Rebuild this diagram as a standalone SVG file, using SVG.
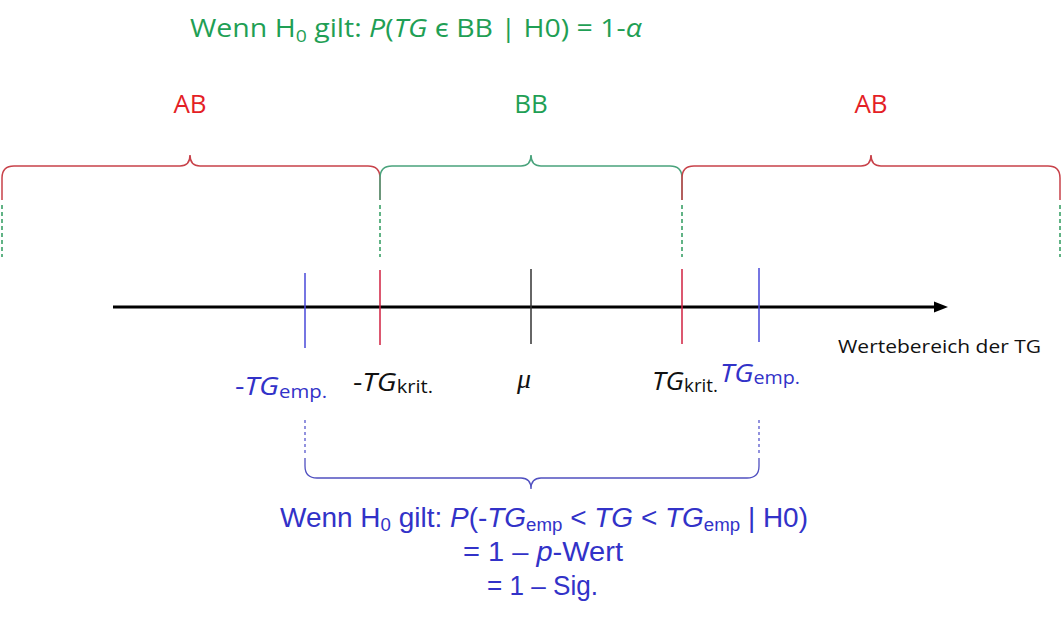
<svg xmlns="http://www.w3.org/2000/svg" width="1062" height="626" viewBox="0 0 1062 626">
<style>
text{font-family:"Open Sans","Noto Sans","Liberation Sans",sans-serif}
.lt{font-family:"Liberation Sans","Open Sans",sans-serif}
.g{fill:#1f9f55}
.r{fill:#e41e26}
.b{fill:#3232c8}
.k{fill:#111}
.i{font-style:italic}
.brR{fill:none;stroke:#c8424a;stroke-width:1.5}
.brG{fill:none;stroke:#4aa37c;stroke-width:1.5}
.brB{fill:none;stroke:#5050c0;stroke-width:1.3}
.dG{stroke:#2e9a5e;stroke-width:1.5;stroke-dasharray:4 3}
.dB{stroke:#4a4ac8;stroke-width:1.2;stroke-dasharray:3 3}
.tk{stroke-width:1.5}
</style>

<g id="title">
<text class="g" x="190" y="37" font-size="25" textLength="452" lengthAdjust="spacingAndGlyphs">Wenn H<tspan font-size="17" dy="5">0</tspan><tspan dy="-5"> gilt: </tspan><tspan class="i">P</tspan>(<tspan class="i">TG</tspan> ϵ BB | H0) = 1-<tspan class="i">α</tspan></text>
</g>

<g id="region-labels">
<text class="r" x="190" y="113" font-size="26" text-anchor="middle">AB</text>
<text class="g" x="531" y="113" font-size="26" text-anchor="middle">BB</text>
<text class="r" x="871" y="113" font-size="26" text-anchor="middle">AB</text>
</g>

<g id="connectors">
<path class="brR" d="M2,200 V178 Q2,166 14,166 H180 Q190,166 190,155 Q190,166 200,166 H368 Q380,166 380,178 V200"/>
<path class="brG" d="M380,200 V178 Q380,166 392,166 H521 Q531,166 531,155 Q531,166 541,166 H670 Q682,166 682,178 V200"/>
<path class="brR" d="M682,200 V178 Q682,166 694,166 H861 Q871,166 871,155 Q871,166 881,166 H1048 Q1060,166 1060,178 V200"/>
<line class="dG" x1="2" y1="205" x2="2" y2="257"/>
<line class="dG" x1="380" y1="205" x2="380" y2="257"/>
<line class="dG" x1="682" y1="205" x2="682" y2="257"/>
<line class="dG" x1="1060" y1="205" x2="1060" y2="257"/>
<line x1="113" y1="307" x2="936" y2="307" stroke="#000" stroke-width="3"/>
<polygon points="934,301.5 948,307 934,312.5" fill="#000"/>
<line class="tk" x1="305" y1="273" x2="305" y2="348" stroke="#4848d8"/>
<line class="tk" x1="380" y1="270" x2="380" y2="345" stroke="#d02040"/>
<line class="tk" x1="531" y1="269" x2="531" y2="344" stroke="#333"/>
<line class="tk" x1="682" y1="269" x2="682" y2="344" stroke="#d02040"/>
<line class="tk" x1="759" y1="268" x2="759" y2="342" stroke="#4848d8"/>
<line class="dB" x1="305" y1="420" x2="305" y2="456"/>
<line class="dB" x1="759" y1="420" x2="759" y2="456"/>
<path class="brB" d="M305,458 V466 Q305,478 317,478 H521 Q531,478 531,489 Q531,478 541,478 H747 Q759,478 759,466 V458"/>
</g>

<g id="tick-labels">
<text class="b" x="235" y="395" font-size="26" textLength="92" lengthAdjust="spacingAndGlyphs">-<tspan class="i">TG</tspan><tspan font-size="18" dy="3">emp.</tspan></text>
<text class="k" x="353" y="391" font-size="26" textLength="80" lengthAdjust="spacingAndGlyphs">-<tspan class="i">TG</tspan><tspan font-size="18" dy="2">krit.</tspan></text>
<text class="k" x="517" y="388" font-size="28" font-style="italic" style="font-family:'Liberation Serif',serif">μ</text>
<text class="k" x="652" y="390" font-size="26" textLength="66" lengthAdjust="spacingAndGlyphs"><tspan class="i">TG</tspan><tspan font-size="18" dy="2">krit.</tspan></text>
<text class="b" x="720" y="382" font-size="26" textLength="80" lengthAdjust="spacingAndGlyphs"><tspan class="i">TG</tspan><tspan font-size="18" dy="2">emp.</tspan></text>
<text class="k" x="838" y="353" font-size="19" textLength="203" lengthAdjust="spacingAndGlyphs">Wertebereich der TG</text>
</g>

<g id="bottom-text">
<text class="b lt" x="280" y="527" font-size="27" textLength="528" lengthAdjust="spacingAndGlyphs">Wenn H<tspan font-size="18" dy="4">0</tspan><tspan dy="-4"> gilt: </tspan><tspan class="i">P</tspan>(-<tspan class="i">TG</tspan><tspan font-size="18" dy="4">emp</tspan><tspan dy="-4"> &lt; </tspan><tspan class="i">TG</tspan> &lt; <tspan class="i">TG</tspan><tspan font-size="18" dy="4">emp</tspan><tspan dy="-4"> | H0)</tspan></text>
<text class="b lt" x="463" y="561" font-size="27" textLength="160" lengthAdjust="spacingAndGlyphs">= 1 – <tspan class="i">p</tspan>-Wert</text>
<text class="b lt" x="487" y="595" font-size="27" textLength="111" lengthAdjust="spacingAndGlyphs">= 1 – Sig.</text>
</g>
</svg>
